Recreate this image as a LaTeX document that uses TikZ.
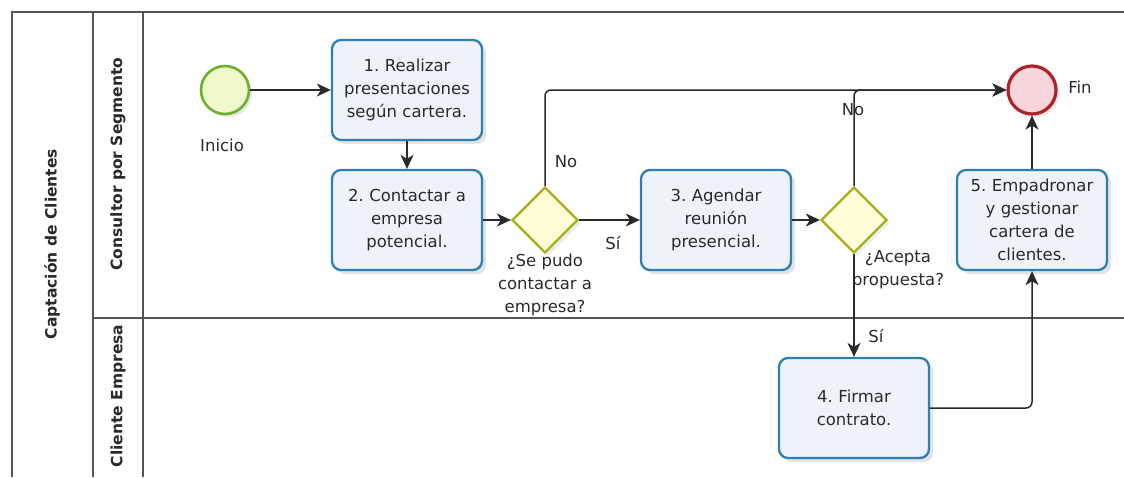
\documentclass[tikz,border=0pt]{standalone}
\usepackage{fontspec}
\setmainfont{DejaVu Sans}
\usetikzlibrary{shapes.geometric,arrows.meta,shadows}
\definecolor{taskline}{HTML}{2F7FB0}
\definecolor{taskfill}{HTML}{EEF3FB}
\definecolor{startline}{HTML}{6CB02E}
\definecolor{startfill}{HTML}{F0F8CC}
\definecolor{endline}{HTML}{B2202A}
\definecolor{endfill}{HTML}{F6D6DA}
\definecolor{gateline}{HTML}{A9AE1E}
\definecolor{gatefill}{HTML}{FFFDD6}
\definecolor{laneline}{HTML}{555555}
\definecolor{ink}{HTML}{2A2A2A}
\begin{document}
\frenchspacing
\begin{tikzpicture}[x=1pt,y=-1pt,
  txt/.style={font=\fontsize{16.5}{23}\selectfont, text=ink},
  lanetitle/.style={font=\fontsize{15.5}{18}\selectfont\bfseries, rotate=90, text=ink},
  task/.style={txt, draw=taskline, line width=2.3pt, rounded corners=9pt, fill=taskfill,
    minimum width=150pt, minimum height=100pt, text width=146pt, align=center, inner sep=0pt,
    drop shadow={opacity=0.22, shadow xshift=4pt, shadow yshift=-4pt}},
  gate/.style={diamond, aspect=1, draw=gateline, line width=2.3pt, fill=gatefill,
    minimum size=66pt, inner sep=0pt,
    drop shadow={opacity=0.15, shadow xshift=3pt, shadow yshift=-3pt}},
  startev/.style={circle, draw=startline, line width=2.6pt, fill=startfill, minimum size=48pt, inner sep=0pt,
    drop shadow={opacity=0.2, shadow xshift=3pt, shadow yshift=-3pt}},
  endev/.style={circle, draw=endline, line width=3.2pt, fill=endfill, minimum size=48pt, inner sep=0pt,
    drop shadow={opacity=0.2, shadow xshift=3pt, shadow yshift=-3pt}},
  flow/.style={draw=ink, line width=1.5pt, -{Stealth[length=14pt,width=13pt,inset=4pt]}},
  pool/.style={draw=laneline, line width=1.4pt},
  lbl/.style={txt, inner sep=1pt}
]
\useasboundingbox (0,0) rectangle (1124,477);

% pool and lanes
\draw[pool] (12,477) -- (12,12) -- (1124,12);
\draw[pool] (93,12) -- (93,477);
\draw[pool] (143,12) -- (143,477);
\draw[pool] (93,318) -- (1124,318);

\node[lanetitle] (pooltitle) at (52,244) {Captación de Clientes};
\node[lanetitle] (lane1) at (118,164) {Consultor por Segmento};
\node[lanetitle] (lane2) at (118,396) {Cliente Empresa};

% events
\node[startev] (start) at (225,90) {};
\node[lbl] (startlbl) at (222,145) {Inicio};
\node[endev] (fin) at (1032,90) {};
\node[lbl] (finlbl) at (1080,87) {Fin};

% tasks
\node[task] (t1) at (407,90) {1. Realizar\\presentaciones\\según cartera.};
\node[task] (t2) at (407,220) {2. Contactar a\\empresa\\potencial.};
\node[task] (t3) at (716,220) {3. Agendar\\reunión\\presencial.};
\node[task] (t4) at (854,408) {4. Firmar\\contrato.};
\node[task] (t5) at (1032,220) {5. Empadronar\\y gestionar\\cartera de\\clientes.};

% gateways
\node[gate] (g1) at (545,220) {};
\node[gate] (g2) at (854,220) {};
\node[lbl, align=center] (g1lbl) at (545,285) {¿Se pudo\\contactar a\\empresa?};
\node[lbl, align=center] (g2lbl) at (898,270) {¿Acepta\\propuesta?};

% sequence flows
\draw[flow] (start) -- (t1);
\draw[flow] (t1) -- (t2);
\draw[flow] (t2) -- (g1);
\draw[flow] (g1) -- (t3);
\draw[flow] (t3) -- (g2);
\draw[flow, rounded corners=6pt] (g1.north) |- (fin.west);
\draw[flow, rounded corners=6pt] (g2.north) |- (fin.west);
\draw[flow] (g2.south) -- (t4.north);
\draw[flow, rounded corners=6pt] (t4.east) -| (t5.south);
\draw[flow] (t5.north) -- (fin.south);

% flow labels
\node[lbl] (no1) at (566,162) {No};
\node[lbl] (no2) at (853,110) {No};
\node[lbl] (si1) at (613,243) {Sí};
\node[lbl] (si2) at (876,336) {Sí};
\end{tikzpicture}
\end{document}
